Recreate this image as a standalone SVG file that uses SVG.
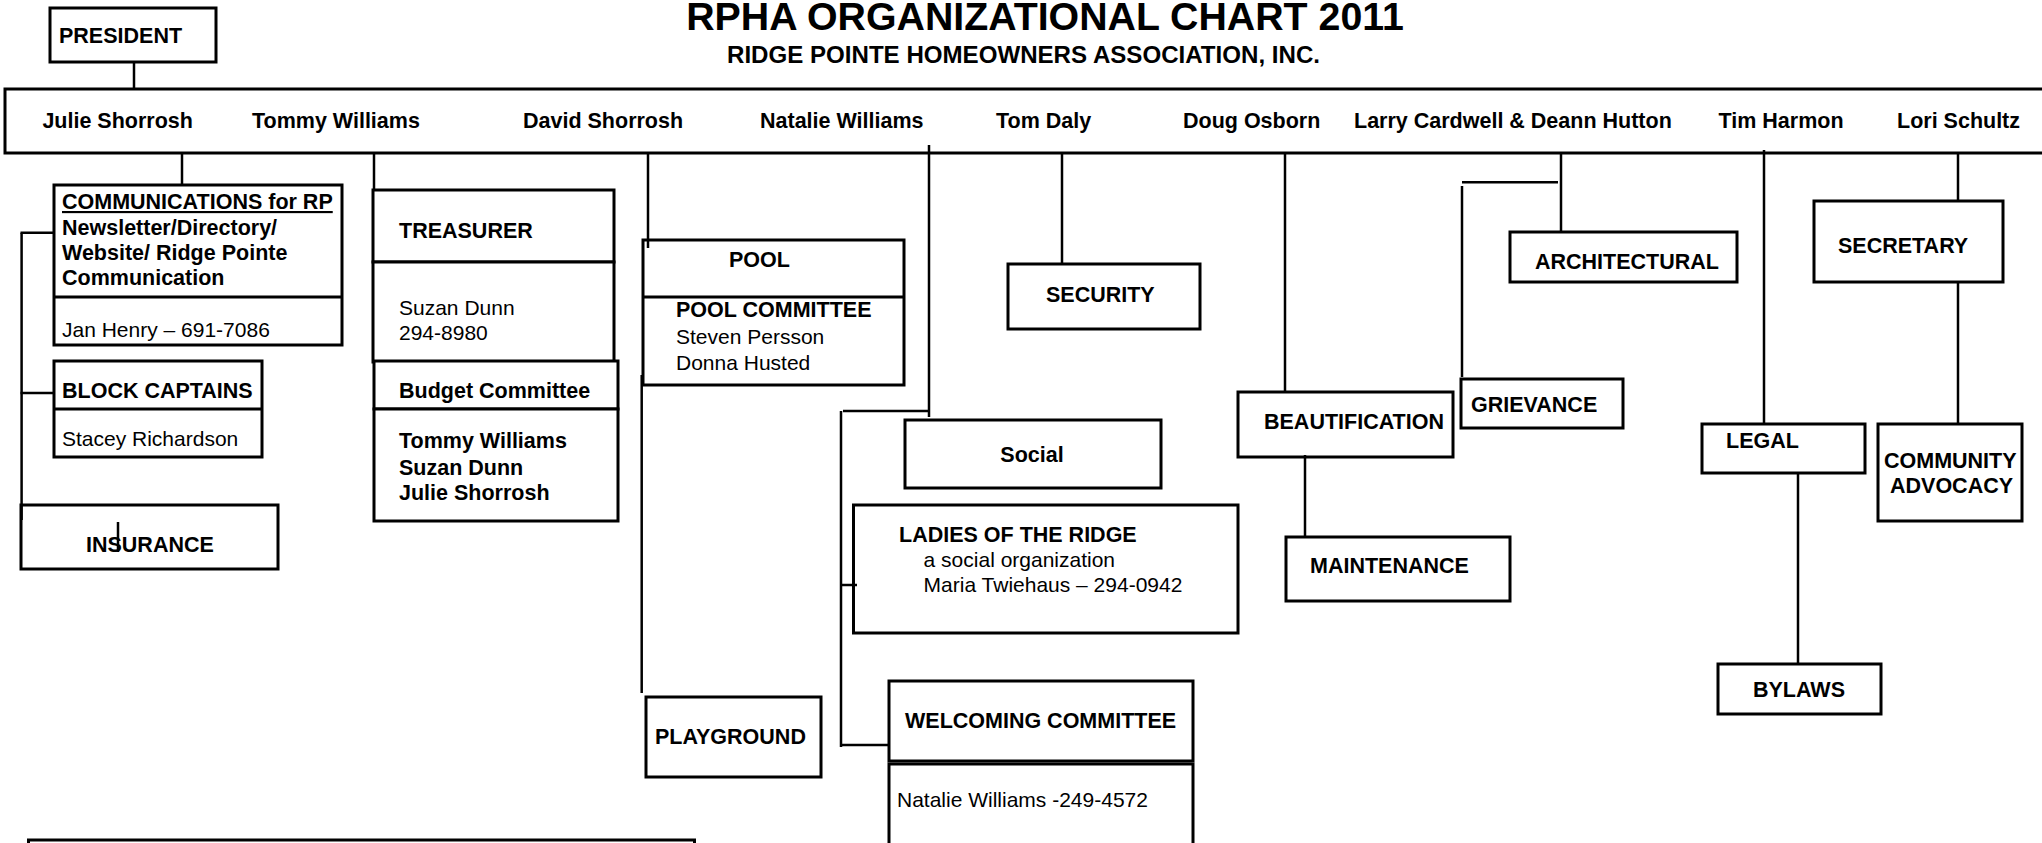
<svg xmlns="http://www.w3.org/2000/svg" width="2042" height="843" viewBox="0 0 2042 843">
<style>
.box{fill:#fff;stroke:#000;stroke-width:3}
.ln{stroke:#000;stroke-width:2.5;fill:none}
.b{font-family:"Liberation Sans",Arial,sans-serif;font-weight:bold;font-size:21.5px;fill:#000}
.r{font-family:"Liberation Sans",Arial,sans-serif;font-size:21px;fill:#000}
</style>
<rect width="2042" height="843" fill="#fff"/>
<text class="b" x="1045" y="30" text-anchor="middle" style="font-size:39.3px">RPHA ORGANIZATIONAL CHART 2011</text>
<text class="b" x="727" y="63" style="font-size:24.1px">RIDGE POINTE HOMEOWNERS ASSOCIATION, INC.</text>

<g id="president">
<rect class="box" x="50" y="8" width="166" height="54"/>
<text class="b" x="59" y="43">PRESIDENT</text>
</g>

<g id="board">
<rect class="box" x="5" y="89" width="2045" height="64"/>
<text class="b" x="42.4" y="128">Julie Shorrosh</text>
<text class="b" x="252" y="128">Tommy Williams</text>
<text class="b" x="523" y="128">David Shorrosh</text>
<text class="b" x="760" y="128">Natalie Williams</text>
<text class="b" x="996" y="128">Tom Daly</text>
<text class="b" x="1183" y="128">Doug Osborn</text>
<text class="b" x="1354" y="128">Larry Cardwell &amp; Deann Hutton</text>
<text class="b" x="1718.5" y="128">Tim Harmon</text>
<text class="b" x="1897" y="128">Lori Schultz</text>
</g>

<g id="communications">
<rect class="box" x="54" y="185" width="288" height="160"/>
<line class="box" x1="54" y1="297" x2="342" y2="297"/>
<text class="b" x="62" y="209" text-decoration="underline">COMMUNICATIONS for RP</text>
<text class="b" x="62" y="235">Newsletter/Directory/</text>
<text class="b" x="62" y="260">Website/ Ridge Pointe</text>
<text class="b" x="62" y="285">Communication</text>
<text class="r" x="62" y="336.5">Jan Henry – 691-7086</text>
</g>

<g id="block-captains">
<rect class="box" x="54" y="361" width="208" height="96"/>
<line class="box" x1="54" y1="409" x2="262" y2="409"/>
<text class="b" x="62" y="398">BLOCK CAPTAINS</text>
<text class="r" x="62" y="446">Stacey Richardson</text>
</g>

<g id="insurance">
<rect class="box" x="21" y="505" width="257" height="64"/>
<text class="b" x="86" y="552">INSURANCE</text>
</g>

<g id="treasurer">
<rect class="box" x="373" y="190" width="241" height="72"/>
<rect class="box" x="373" y="262" width="241" height="100"/>
<text class="b" x="399" y="238">TREASURER</text>
<text class="r" x="399" y="315">Suzan Dunn</text>
<text class="r" x="399" y="340">294-8980</text>
</g>

<g id="budget">
<rect class="box" x="374" y="361" width="244" height="48"/>
<rect class="box" x="374" y="409" width="244" height="112"/>
<text class="b" x="399" y="398">Budget Committee</text>
<text class="b" x="399" y="448">Tommy Williams</text>
<text class="b" x="399" y="475">Suzan Dunn</text>
<text class="b" x="399" y="500">Julie Shorrosh</text>
</g>

<g id="pool">
<rect class="box" x="643" y="240" width="261" height="145"/>
<line class="box" x1="643" y1="297" x2="904" y2="297"/>
<text class="b" x="729" y="267">POOL</text>
<text class="b" x="676" y="317">POOL COMMITTEE</text>
<text class="r" x="676" y="344">Steven Persson</text>
<text class="r" x="676" y="370">Donna Husted</text>
</g>

<g id="playground">
<rect class="box" x="646" y="697" width="175" height="80"/>
<text class="b" x="655" y="744">PLAYGROUND</text>
</g>

<g id="social">
<rect class="box" x="905" y="420" width="256" height="68"/>
<text class="b" x="1032" y="462" text-anchor="middle">Social</text>
</g>

<g id="ladies">
<rect class="box" x="853.5" y="505" width="384.5" height="128"/>
<text class="b" x="899" y="542">LADIES OF THE RIDGE</text>
<text class="r" x="923.6" y="567">a social organization</text>
<text class="r" x="923.6" y="592">Maria Twiehaus – 294-0942</text>
</g>

<g id="welcoming">
<rect class="box" x="889" y="681" width="304" height="80"/>
<text class="b" x="905" y="728">WELCOMING COMMITTEE</text>
</g>

<g id="welcoming-contact">
<rect class="box" x="889" y="764" width="304" height="100"/>
<text class="r" x="897" y="807">Natalie Williams -249-4572</text>
</g>

<g id="security">
<rect class="box" x="1008" y="264" width="192" height="65"/>
<text class="b" x="1046" y="302">SECURITY</text>
</g>

<g id="beautification">
<rect class="box" x="1238" y="392" width="215" height="65"/>
<text class="b" x="1264" y="429">BEAUTIFICATION</text>
</g>

<g id="maintenance">
<rect class="box" x="1286" y="537" width="224" height="64"/>
<text class="b" x="1310" y="573">MAINTENANCE</text>
</g>

<g id="architectural">
<rect class="box" x="1510" y="232" width="227" height="50"/>
<text class="b" x="1535" y="269">ARCHITECTURAL</text>
</g>

<g id="grievance">
<rect class="box" x="1461" y="379" width="162" height="49"/>
<text class="b" x="1471" y="412">GRIEVANCE</text>
</g>

<g id="legal">
<rect class="box" x="1702" y="424" width="163" height="49"/>
<text class="b" x="1726" y="448">LEGAL</text>
</g>

<g id="bylaws">
<rect class="box" x="1718" y="664" width="163" height="50"/>
<text class="b" x="1753" y="697">BYLAWS</text>
</g>

<g id="secretary">
<rect class="box" x="1814" y="201" width="189" height="81"/>
<text class="b" x="1838" y="253">SECRETARY</text>
</g>

<g id="community-advocacy">
<rect class="box" x="1878" y="424" width="144" height="97"/>
<text class="b" x="1884" y="468">COMMUNITY</text>
<text class="b" x="1890" y="493">ADVOCACY</text>
</g>

<g id="bottom-box">
<rect class="box" x="28.5" y="840" width="666" height="20"/>
</g>

<g id="connectors">
<line class="ln" x1="134" y1="61" x2="134" y2="90"/>
<line class="ln" x1="182" y1="153" x2="182" y2="185"/>
<line class="ln" x1="21.6" y1="232.7" x2="21.6" y2="520"/>
<line class="ln" x1="20.5" y1="232.7" x2="54" y2="232.7"/>
<line class="ln" x1="20.5" y1="393" x2="54" y2="393"/>
<line class="ln" x1="118" y1="522" x2="118" y2="552"/>
<line class="ln" x1="374" y1="153" x2="374" y2="190"/>
<line class="ln" x1="648" y1="153" x2="648" y2="248"/>
<line class="ln" x1="641.7" y1="375" x2="641.7" y2="693"/>
<line class="ln" x1="929" y1="145" x2="929" y2="417"/>
<line class="ln" x1="843" y1="411" x2="929" y2="411"/>
<line class="ln" x1="841" y1="411" x2="841" y2="747"/>
<line class="ln" x1="841" y1="585" x2="857" y2="585"/>
<line class="ln" x1="841" y1="745" x2="889" y2="745"/>
<line class="ln" x1="1062" y1="153" x2="1062" y2="264"/>
<line class="ln" x1="1285" y1="153" x2="1285" y2="392"/>
<line class="ln" x1="1305" y1="455" x2="1305" y2="537"/>
<line class="ln" x1="1561" y1="153" x2="1561" y2="232"/>
<line class="ln" x1="1462" y1="182.3" x2="1558" y2="182.3"/>
<line class="ln" x1="1462" y1="186" x2="1462" y2="377"/>
<line class="ln" x1="1764" y1="150" x2="1764" y2="424"/>
<line class="ln" x1="1798" y1="473" x2="1798" y2="664"/>
<line class="ln" x1="1958" y1="153" x2="1958" y2="201"/>
<line class="ln" x1="1958" y1="282" x2="1958" y2="424"/>
</g>
</svg>
